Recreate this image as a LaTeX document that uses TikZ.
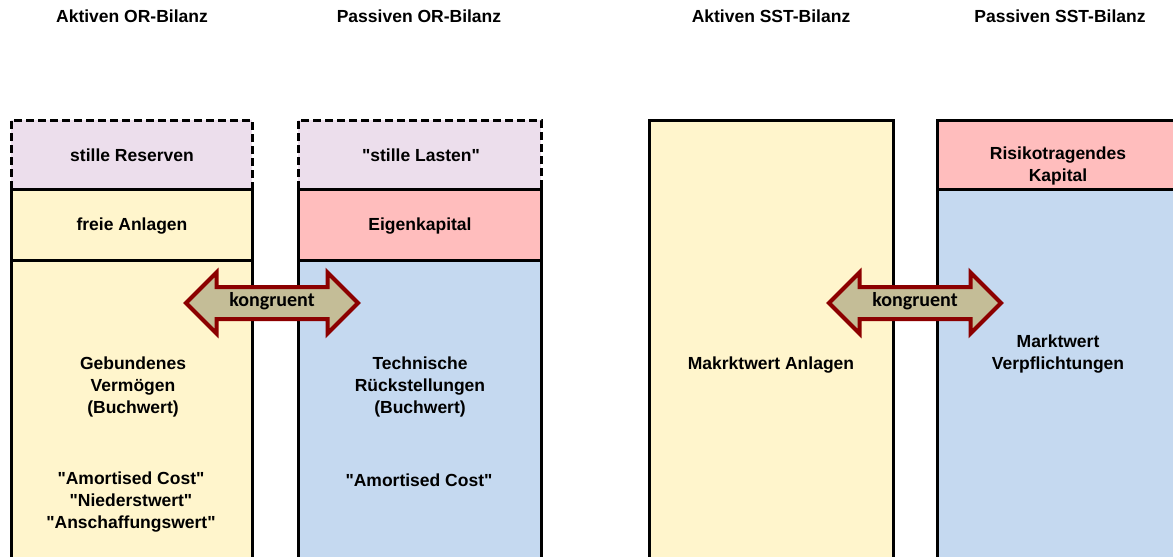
\documentclass[tikz,border=0pt]{standalone}
\usepackage{fontspec}
\setmainfont{Liberation Sans}
\newfontfamily\kongfont{Carlito}
\usepackage{tikz}
\usetikzlibrary{shapes.arrows}
\definecolor{lilac}{RGB}{236,222,236}
\definecolor{cream}{RGB}{255,245,204}
\definecolor{rose}{RGB}{255,189,189}
\definecolor{skyblue}{RGB}{197,217,240}
\definecolor{arrowred}{RGB}{140,0,0}
\definecolor{arrowtan}{RGB}{196,189,151}

\begin{document}
\begin{tikzpicture}[x=1pt,y=-1pt]
  \tikzset{
    edge/.style={draw=black,line width=3pt},
    edgedash/.style={draw=black,line width=3pt,dash pattern=on 8pt off 4pt},
    hdr/.style={font=\fontsize{17.5}{20}\selectfont\bfseries},
    cell/.style={font=\fontsize{17.5}{22}\selectfont\bfseries,align=center},
    kong/.style={double arrow,draw=arrowred,fill=arrowtan,line width=4pt,
      double arrow head extend=14.5pt,minimum height=172pt,inner xsep=0pt,inner ysep=7pt,
      text height=10pt,text depth=4pt,font=\kongfont\fontsize{20}{22}\selectfont\bfseries},
  }
  \useasboundingbox (0,0) rectangle (1173,557);
  \clip (0,0) rectangle (1173,557);

  % OR-Bilanz: two columns with dashed top row
  \foreach \xl/\xr/\midc/\lowc in {11/252/cream/cream,298/541/rose/skyblue} {
    \fill[lilac] (\xl,120) rectangle (\xr,189);
    \fill[\midc] (\xl,189) rectangle (\xr,260);
    \fill[\lowc] (\xl,260) rectangle (\xr,570);
    \draw[edgedash] (\xl,189) -- (\xl,120) -- (\xr,120) -- (\xr,189);
    \draw[edge] (\xl,570) -- (\xl,189) -- (\xr,189) -- (\xr,570);
    \draw[edge] (\xl,260) -- (\xr,260);
  }
  % SST-Bilanz
  \fill[cream] (649,120) rectangle (893,570);
  \draw[edge] (649,570) -- (649,120) -- (893,120) -- (893,570);
  \fill[rose] (937,120) rectangle (1180,189);
  \fill[skyblue] (937,189) rectangle (1180,570);
  \draw[edge] (937,570) -- (937,120) -- (1180,120);
  \draw[edge] (937,189) -- (1180,189);

  % headers
  \node[hdr] (hdAktOR) at (132,16) {Aktiven OR-Bilanz};
  \node[hdr] (hdPasOR) at (419,16) {Passiven OR-Bilanz};
  \node[hdr] (hdAktSST) at (771,16) {Aktiven SST-Bilanz};
  \node[hdr] (hdPasSST) at (1060,16) {Passiven SST-Bilanz};

  % cell texts
  \node[cell] (txtReserven) at (132,155) {stille Reserven};
  \node[cell] (txtFrei) at (132,226) {freie Anlagen};
  \node[cell] (txtGeb) at (133,387) {Gebundenes\\Verm\"ogen\\(Buchwert)};
  \node[cell] (txtCostA) at (131,502) {\textquotedbl Amortised Cost\textquotedbl\\\textquotedbl Niederstwert\textquotedbl\\\textquotedbl Anschaffungswert\textquotedbl};
  \node[cell] (txtLasten) at (421,155) {\textquotedbl stille Lasten\textquotedbl};
  \node[cell] (txtEigen) at (420,226) {Eigenkapital};
  \node[cell] (txtTech) at (420,387) {Technische\\R\"uckstellungen\\(Buchwert)};
  \node[cell] (txtCostP) at (419,480) {\textquotedbl Amortised Cost\textquotedbl};
  \node[cell] (txtMarktA) at (771,365) {Makrktwert Anlagen};
  \node[cell] (txtRisiko) at (1058,166) {Risikotragendes\\Kapital};
  \node[cell] (txtMarktP) at (1058,354) {Marktwert\\Verpflichtungen};

  % congruence arrows
  \node[kong] (kongOR) at (272,303) {kongruent};
  \node[kong] (kongSST) at (915,303) {kongruent};
\end{tikzpicture}
\end{document}
